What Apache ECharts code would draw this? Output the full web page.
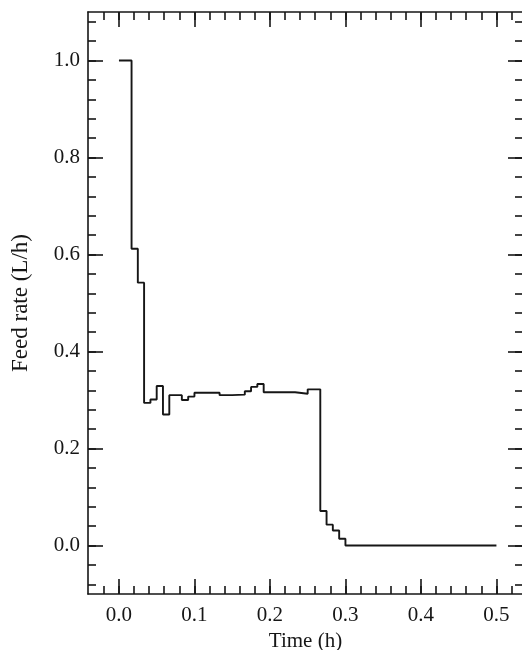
<!DOCTYPE html>
<html>
<head>
<meta charset="utf-8">
<script src="https://cdn.jsdelivr.net/npm/echarts@6/dist/echarts.min.js"></script>
<style>html,body{margin:0;padding:0;background:#fff;}#c{width:522px;height:650px;}</style>
</head>
<body>
<div id="c"></div>
<script>
// Step change times (h) and feed rate held from each time (L/h)
const changeTimes = [0, 0.0167, 0.025, 0.0333, 0.0417, 0.05, 0.0583, 0.0667, 0.0833, 0.0917, 0.1, 0.1333, 0.15, 0.1667, 0.175, 0.1833, 0.1917, 0.2333, 0.25, 0.2667, 0.275, 0.2833, 0.2917, 0.3, 0.5];
const feedRates   = [1.0, 0.612, 0.542, 0.294, 0.301, 0.329, 0.270, 0.310, 0.300, 0.307, 0.315, 0.310, 0.311, 0.318, 0.327, 0.333, 0.316, 0.313, 0.322, 0.071, 0.043, 0.031, 0.014, 0.0, 0.0];

const xMajorTicks = [0, 0.1, 0.2, 0.3, 0.4, 0.5];
const xMinorTicks = [-0.02, 0, 0.02, 0.04, 0.06, 0.08, 0.1, 0.12, 0.14, 0.16, 0.18, 0.2, 0.22, 0.24, 0.26, 0.28, 0.3, 0.32, 0.34, 0.36, 0.38, 0.4, 0.42, 0.44, 0.46, 0.48, 0.5, 0.52];
const yMajorTicks = [0, 0.2, 0.4, 0.6, 0.8, 1.0];
const yMinorTicks = [-0.08, -0.04, 0, 0.04, 0.08, 0.12, 0.16, 0.2, 0.24, 0.28, 0.32, 0.36, 0.4, 0.44, 0.48, 0.52, 0.56, 0.6, 0.64, 0.68, 0.72, 0.76, 0.8, 0.84, 0.88, 0.92, 0.96, 1.0, 1.04, 1.08];

const X_MIN = -0.041, X_MAX = 0.5352, Y_MIN = -0.1, Y_MAX = 1.1;
const FONT = 'Liberation Serif';
const INK = '#161616';

const chart = echarts.init(document.getElementById('c'), null, {renderer: 'canvas'});

function xAx(pos, ticks, len, showLine, labels, extra) {
  return Object.assign({
    type: 'value', position: pos, min: X_MIN, max: X_MAX,
    axisLine: {show: showLine, onZero: false, lineStyle: {color: INK, width: 1.6}},
    axisTick: {show: true, inside: true, length: len, customValues: ticks, lineStyle: {color: INK, width: 1.6}},
    axisLabel: labels ? {show: true, customValues: xMajorTicks, formatter: v => v.toFixed(1), color: INK, fontFamily: FONT, fontSize: 21, margin: 11} : {show: false},
    splitLine: {show: false}
  }, extra || {});
}
function yAx(pos, ticks, len, showLine, labels, extra) {
  return Object.assign({
    type: 'value', position: pos, min: Y_MIN, max: Y_MAX,
    axisLine: {show: showLine, onZero: false, lineStyle: {color: INK, width: 1.6}},
    axisTick: {show: true, inside: true, length: len, customValues: ticks, lineStyle: {color: INK, width: 1.6}},
    axisLabel: labels ? {show: true, customValues: yMajorTicks, formatter: v => v.toFixed(1), color: INK, fontFamily: FONT, fontSize: 21, margin: 8} : {show: false},
    splitLine: {show: false}
  }, extra || {});
}

const data = changeTimes.map((t, i) => [t, feedRates[i]]);

chart.setOption({
  animation: false,
  backgroundColor: '#ffffff',
  grid: {left: 88, top: 12, right: -1, bottom: 56, containLabel: false, outerBoundsMode: 'none'},
  xAxis: [
    xAx('bottom', xMajorTicks, 15, true, true, {
      name: 'Time (h)', nameLocation: 'middle', nameGap: 35,
      nameTextStyle: {color: INK, fontFamily: FONT, fontSize: 21}
    }),
    xAx('bottom', xMinorTicks, 8, false, false),
    xAx('top', xMajorTicks, 15, true, false),
    xAx('top', xMinorTicks, 8, false, false)
  ],
  yAxis: [
    yAx('left', yMajorTicks, 15, true, true, {
      name: 'Feed rate (L/h)', nameLocation: 'middle', nameGap: 56,
      nameTextStyle: {color: INK, fontFamily: FONT, fontSize: 23}
    }),
    yAx('left', yMinorTicks, 8, false, false),
    yAx('right', yMajorTicks, 15, true, false),
    yAx('right', yMinorTicks, 8, false, false)
  ],
  series: [{
    type: 'line', xAxisIndex: 0, yAxisIndex: 0,
    step: 'end', data: data, showSymbol: false, symbol: 'none',
    lineStyle: {color: INK, width: 1.9}
  }]
});
</script>
</body>
</html>
